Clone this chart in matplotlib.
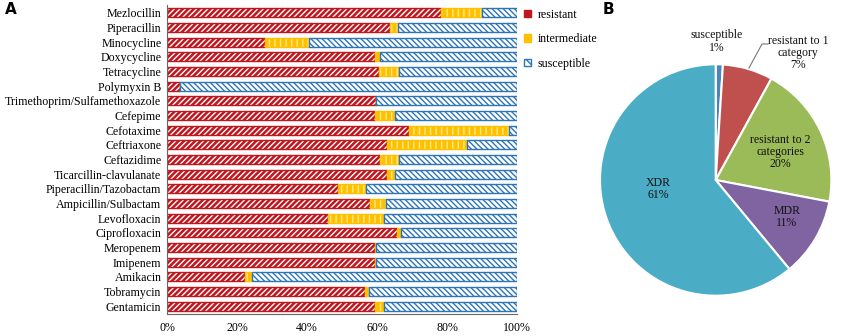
import matplotlib
matplotlib.use("Agg")
import matplotlib.pyplot as plt
from matplotlib.patches import Patch
from matplotlib.ticker import PercentFormatter

plt.rcParams['font.family'] = ['Liberation Serif', 'DejaVu Serif']
plt.rcParams['hatch.linewidth'] = 1.0

# PANEL A DATA (percent of isolates)
drugs = ['Mezlocillin', 'Piperacillin', 'Minocycline', 'Doxycycline', 'Tetracycline',
         'Polymyxin B', 'Trimethoprim/Sulfamethoxazole', 'Cefepime', 'Cefotaxime',
         'Ceftriaxone', 'Ceftazidime', 'Ticarcillin-clavulanate', 'Piperacillin/Tazobactam',
         'Ampicillin/Sulbactam', 'Levofloxacin', 'Ciprofloxacin', 'Meropenem', 'Imipenem',
         'Amikacin', 'Tobramycin', 'Gentamicin']
resistant = [78.3, 63.6, 28.0, 59.5, 60.6, 3.6, 59.7, 59.5, 69.0, 62.8, 60.9,
             62.8, 48.9, 58.0, 45.9, 65.6, 59.5, 59.5, 22.3, 56.7, 59.5]
intermediate = [11.6, 2.5, 12.7, 1.4, 5.8, 0.0, 0.0, 5.7, 28.8, 23.0, 5.5,
                2.4, 8.0, 4.5, 16.1, 1.3, 0.3, 0.3, 1.9, 0.9, 2.5]
susceptible = [10.1, 33.9, 59.3, 39.1, 33.6, 96.4, 40.3, 34.8, 2.2, 14.2, 33.6,
               34.8, 43.1, 37.5, 38.0, 33.1, 40.2, 40.2, 75.8, 42.4, 38.0]

# PANEL B DATA
pie_labels = ['susceptible', 'resistant to 1\ncategory', 'resistant to 2\ncategories', 'MDR', 'XDR']
pie_values = [1, 7, 20, 11, 61]
pie_colors = ['#4F81BD', '#C0504D', '#9BBB59', '#8064A2', '#4BACC6']

# (face, hatch colour, outline, hatch)
STYLES = {
    'resistant': ('#C0161E', 'white', '#C0161E', '//////'),
    'intermediate': ('#FFC000', '#FFE98A', '#FFC000', '|||'),
    'susceptible': ('white', '#2E75B6', '#2E75B6', '\\\\\\\\\\\\'),
}
FS = 8.6

W, H = 851, 336
fig = plt.figure(figsize=(W / 100, H / 100), dpi=100)

# ---- panel A: stacked bars
ax = fig.add_axes([167 / W, 1 - 313.5 / H, 350 / W, 308 / H])
y = list(range(len(drugs)))
left = [0.0] * len(drugs)
handles = []
for name, vals in [('resistant', resistant), ('intermediate', intermediate), ('susceptible', susceptible)]:
    face, hcol, edge, hatch = STYLES[name]
    ax.barh(y, vals, left=left, height=0.6, color=face, edgecolor=hcol, hatch=hatch, linewidth=0)
    ax.barh(y, vals, left=left, height=0.6, fill=False, edgecolor=edge, linewidth=1.0)
    left = [a + b for a, b in zip(left, vals)]
    if name == 'susceptible':
        handles.append(Patch(facecolor=face, edgecolor=edge, hatch='\\\\\\\\', linewidth=1.0))
    else:
        handles.append(Patch(facecolor=face, edgecolor=edge, linewidth=1.0))

ax.set_yticks(y)
ax.set_yticklabels(drugs, fontsize=FS)
ax.set_ylim(len(drugs) - 0.5, -0.5)
ax.set_xlim(0, 100)
ax.set_xticks([0, 20, 40, 60, 80, 100])
ax.xaxis.set_major_formatter(PercentFormatter(decimals=0))
ax.tick_params(length=0, labelsize=FS, pad=6)
ax.tick_params(axis='y', pad=4)
for s in ['top', 'right']:
    ax.spines[s].set_visible(False)
ax.spines['left'].set_color('#666666')
ax.spines['bottom'].set_color('#666666')

ax.legend(handles, ['resistant', 'intermediate', 'susceptible'], loc='upper left',
          bbox_to_anchor=(0.99, 1.025), frameon=False, fontsize=FS, handlelength=0.6,
          handleheight=0.6, handletextpad=0.55, labelspacing=1.05)

fig.text(5 / W, 1 - 9 / H, 'A', fontsize=11, fontweight='bold', family='DejaVu Sans', va='center')
fig.text(603 / W, 1 - 10 / H, 'B', fontsize=11, fontweight='bold', family='DejaVu Sans', va='center')

# ---- panel B: pie
cx, cy, R = 715.7, 180.0, 115.7
px0, px1 = 560, 851
pax = fig.add_axes([px0 / W, 0, (px1 - px0) / W, 1])
pax.pie(pie_values, colors=pie_colors, startangle=90, counterclock=False,
        wedgeprops=dict(edgecolor='white', linewidth=1.5))
pax.set_aspect('auto')
pax.set_xlim((px0 - cx) / R, (px1 - cx) / R)
pax.set_ylim(-(H - cy) / R, cy / R)
pax.axis('off')


def to_d(px, py):
    return (px - cx) / R, (cy - py) / R


lab_pos = [(717, 41.5), (798, 53), (780, 152), (787, 217), (658, 189)]
for lab, v, (px, py) in zip(pie_labels, pie_values, lab_pos):
    tx, ty = to_d(px, py)
    pax.text(tx, ty, f'{lab}\n{v}%', ha='center', va='center', fontsize=8.5,
             linespacing=1.05, color='#111111')

lx = [to_d(749, 68), to_d(762, 44), to_d(768, 44)]
pax.plot([p[0] for p in lx], [p[1] for p in lx], color='#777777', linewidth=0.8)

fig.savefig('out.png', dpi=100)
